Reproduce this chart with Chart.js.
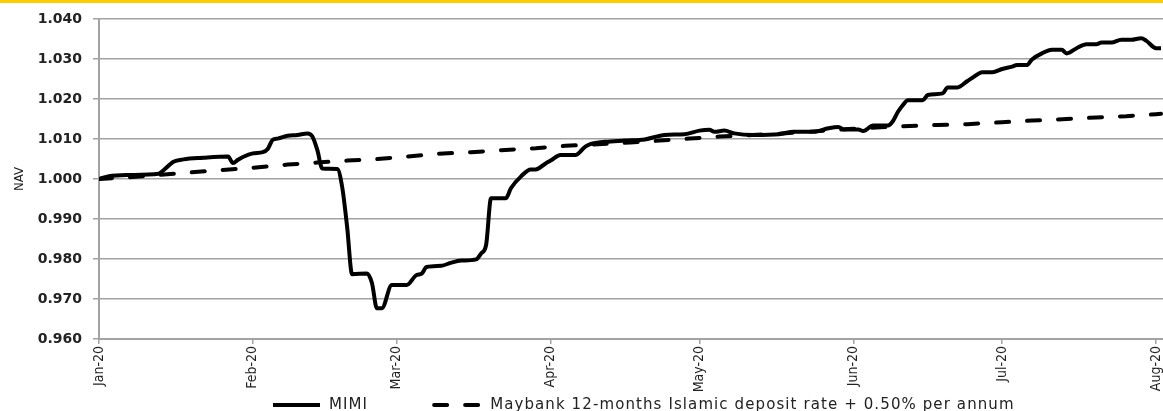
<!DOCTYPE html>
<html>
<head>
<meta charset="utf-8">
<script src="https://cdn.jsdelivr.net/npm/chart.js@4.4.1/dist/chart.umd.min.js"></script>
<style>
  html, body { margin: 0; padding: 0; background: #fff; }
  #wrap { position: relative; width: 1163px; height: 411px; }
  #topBar { position: absolute; left: 0; top: 0; width: 1163px; height: 3px; background: #FFCC00; z-index: 2; }
  canvas { display: block; }
</style>
</head>
<body>
<div id="wrap">
  <div id="topBar"></div>
  <canvas id="navChart" width="1163" height="411"></canvas>
</div>
<script>
// MIMI fund NAV
const mimiDates = [
  '2020-01-01', '2020-01-03', '2020-01-07', '2020-01-13', '2020-01-14', '2020-01-16', '2020-01-18',
  '2020-01-22', '2020-01-27', '2020-01-28', '2020-01-29', '2020-01-30', '2020-02-01', '2020-02-03',
  '2020-02-04', '2020-02-05', '2020-02-06', '2020-02-08', '2020-02-10', '2020-02-12', '2020-02-13',
  '2020-02-14', '2020-02-15', '2020-02-18', '2020-02-19', '2020-02-20', '2020-02-21', '2020-02-24',
  '2020-02-25', '2020-02-26', '2020-02-27', '2020-02-29', '2020-03-03', '2020-03-05', '2020-03-06',
  '2020-03-07', '2020-03-10', '2020-03-12', '2020-03-14', '2020-03-17', '2020-03-18', '2020-03-19',
  '2020-03-20', '2020-03-23', '2020-03-24', '2020-03-26', '2020-03-28', '2020-03-29', '2020-03-31',
  '2020-04-01', '2020-04-03', '2020-04-06', '2020-04-08', '2020-04-09', '2020-04-12', '2020-04-16',
  '2020-04-20', '2020-04-24', '2020-04-28', '2020-05-01', '2020-05-03', '2020-05-04', '2020-05-06',
  '2020-05-08', '2020-05-12', '2020-05-17', '2020-05-20', '2020-05-24', '2020-05-27', '2020-05-29',
  '2020-05-30', '2020-06-02', '2020-06-03', '2020-06-05', '2020-06-08', '2020-06-09', '2020-06-10',
  '2020-06-11', '2020-06-12', '2020-06-15', '2020-06-16', '2020-06-19', '2020-06-20', '2020-06-22',
  '2020-06-24', '2020-06-25', '2020-06-27', '2020-06-29', '2020-07-01', '2020-07-03', '2020-07-04',
  '2020-07-06', '2020-07-07', '2020-07-09', '2020-07-11', '2020-07-13', '2020-07-14', '2020-07-16',
  '2020-07-18', '2020-07-20', '2020-07-21', '2020-07-23', '2020-07-25', '2020-07-27', '2020-07-29',
  '2020-07-30', '2020-08-01', '2020-08-02'
];
const mimiNav = [
  1.0000, 1.0007, 1.0010, 1.0013, 1.0022, 1.0043, 1.0049,
  1.0053, 1.0056, 1.0040, 1.0048, 1.0055, 1.0064, 1.0067,
  1.0075, 1.0098, 1.0101, 1.0108, 1.0110, 1.0114, 1.0106,
  1.0072, 1.0026, 1.0025, 0.9980, 0.9880, 0.9762, 0.9764,
  0.9740, 0.9677, 0.9677, 0.9735, 0.9735, 0.9760, 0.9763,
  0.9780, 0.9783, 0.9791, 0.9796, 0.9799, 0.9814, 0.9835,
  0.9952, 0.9952, 0.9977, 1.0006, 1.0024, 1.0024, 1.0039,
  1.0046, 1.0060, 1.0060, 1.0081, 1.0087, 1.0093, 1.0096,
  1.0099, 1.0110, 1.0112, 1.0121, 1.0123, 1.0118, 1.0121,
  1.0114, 1.0110, 1.0112, 1.0118, 1.0118, 1.0127, 1.0130,
  1.0124, 1.0124, 1.0120, 1.0134, 1.0134, 1.0145, 1.0168,
  1.0185, 1.0197, 1.0197, 1.0210, 1.0214, 1.0229, 1.0229,
  1.0245, 1.0253, 1.0267, 1.0267, 1.0275, 1.0281, 1.0285,
  1.0285, 1.0299, 1.0314, 1.0323, 1.0323, 1.0314, 1.0327,
  1.0337, 1.0337, 1.0341, 1.0341, 1.0348, 1.0348, 1.0352,
  1.0346, 1.0327, 1.0327
];

// Benchmark: Maybank 12-months Islamic deposit rate + 0.50% p.a.
const benchDates = [
  '2020-01-01', '2020-01-09', '2020-01-24', '2020-02-01', '2020-02-08', '2020-02-14', '2020-02-20',
  '2020-02-26', '2020-03-03', '2020-03-09', '2020-03-16', '2020-03-22', '2020-03-29', '2020-04-04',
  '2020-04-17', '2020-04-23', '2020-04-29', '2020-05-05', '2020-05-17', '2020-05-31', '2020-06-11',
  '2020-06-18', '2020-06-24', '2020-07-01', '2020-07-07', '2020-07-14', '2020-07-20', '2020-07-26',
  '2020-08-01', '2020-08-02'
];
const benchNav = [
  1.0000, 1.0006, 1.0021, 1.0028, 1.0036, 1.0041, 1.0046,
  1.0050, 1.0056, 1.0063, 1.0067, 1.0072, 1.0077, 1.0083,
  1.0091, 1.0096, 1.0101, 1.0106, 1.0113, 1.0125, 1.0132,
  1.0135, 1.0137, 1.0142, 1.0146, 1.0150, 1.0154, 1.0157,
  1.0162, 1.0163
];

// x axis month ticks
const monthDates = ['2020-01-01', '2020-02-01', '2020-03-01', '2020-04-01', '2020-05-01', '2020-06-01', '2020-07-01', '2020-08-01'];
const monthLabels = ['Jan-20', 'Feb-20', 'Mar-20', 'Apr-20', 'May-20', 'Jun-20', 'Jul-20', 'Aug-20'];

const seriesNames = ['MIMI', 'Maybank 12-months Islamic deposit rate + 0.50% per annum'];

const START = Date.parse('2020-01-01');
const dayOf = (d) => (Date.parse(d) - START) / 86400000;
const toPoints = (dates, values) => dates.map((d, i) => ({ x: dayOf(d), y: values[i] }));

const GRID = '#a3a3a3';
const TEXT = '#222';

/**
 * Legend drawn under the axis labels, line samples + text
 */
const bottomLegend = {
  id: 'bottomLegend',
  afterDraw(chart) {
    const ctx = chart.ctx;
    const y = 405;
    let x = 273;
    ctx.save();
    ctx.font = '15px "DejaVu Sans"';
    ctx.letterSpacing = '1.1px';
    ctx.fillStyle = TEXT;
    ctx.textBaseline = 'middle';
    chart.data.datasets.forEach((ds) => {
      ctx.beginPath();
      ctx.setLineDash(ds.borderDash || []);
      ctx.lineWidth = ds.borderWidth;
      ctx.lineCap = ds.borderDash ? 'round' : 'butt';
      ctx.strokeStyle = ds.borderColor;
      ctx.moveTo(x, y);
      ctx.lineTo(x + 47, y);
      ctx.stroke();
      ctx.setLineDash([]);
      x += 47 + 9;
      ctx.fillText(ds.label, x, y);
      x += ctx.measureText(ds.label).width + 66;
    });
    ctx.restore();
  }
};

new Chart(document.getElementById('navChart'), {
  type: 'line',
  data: {
    datasets: [{
      label: seriesNames[0],
      data: toPoints(mimiDates, mimiNav),
      borderColor: '#000',
      borderWidth: 4,
      borderJoinStyle: 'round',
      cubicInterpolationMode: 'monotone',
      pointRadius: 0,
      fill: false
    }, {
      label: seriesNames[1],
      data: toPoints(benchDates, benchNav),
      borderColor: '#000',
      borderWidth: 4,
      borderDash: [13, 18],
      borderCapStyle: 'round',
      tension: 0,
      pointRadius: 0,
      fill: false
    }]
  },
  options: {
    responsive: false,
    animation: false,
    layout: { padding: { top: 19, right: 0, bottom: 0, left: 0 } },
    plugins: {
      legend: { display: false },
      tooltip: { enabled: false }
    },
    scales: {
      x: {
        type: 'linear',
        min: 0,
        max: 214.4,
        afterBuildTicks: (scale) => {
          scale.ticks = monthDates.map(d => ({ value: dayOf(d) }));
        },
        afterFit: (scale) => {
          scale.height = 72;
          scale.paddingLeft = 0;
          scale.paddingRight = 0;
        },
        grid: { drawOnChartArea: false, color: GRID, lineWidth: 1.5, tickLength: 5 },
        border: { color: GRID, width: 2 },
        ticks: {
          autoSkip: false,
          minRotation: 90,
          maxRotation: 90,
          padding: 2,
          color: TEXT,
          font: { family: '"Liberation Sans Narrow", "DejaVu Sans Condensed", "Liberation Sans"', size: 14 },
          callback: (value, index) => monthLabels[index]
        }
      },
      y: {
        min: 0.96,
        max: 1.04,
        afterFit: (scale) => {
          scale.width = 99;
          scale.paddingTop = 0;
          scale.paddingBottom = 0;
        },
        grid: { color: GRID, lineWidth: 1.5, tickLength: 6 },
        border: { color: GRID, width: 2 },
        ticks: {
          stepSize: 0.01,
          padding: 11,
          color: TEXT,
          font: { family: '"DejaVu Sans"', size: 14, weight: 'bold' },
          callback: (value) => value.toFixed(3)
        },
        title: {
          display: true,
          text: 'NAV',
          color: TEXT,
          padding: { top: 12, bottom: 0 },
          font: { family: '"Liberation Sans Narrow", "DejaVu Sans Condensed", "Liberation Sans"', size: 13 }
        }
      }
    }
  },
  plugins: [bottomLegend]
});
</script>
</body>
</html>
